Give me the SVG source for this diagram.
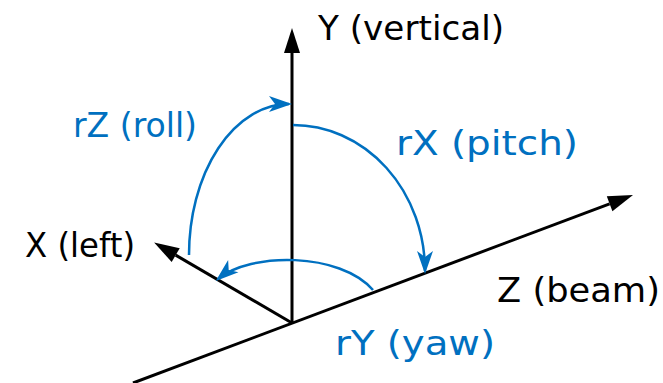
<svg xmlns="http://www.w3.org/2000/svg" width="663" height="383" viewBox="0 0 663 383">
<style>
.axis{stroke:#000;stroke-width:3;fill:none;marker-end:url(#blk)}
.rot{stroke:#0070C0;stroke-width:2.5;fill:none;marker-end:url(#blu)}
.lbl{font-family:"DejaVu Sans",sans-serif;font-size:34px;fill:#000}
.rl{font-family:"DejaVu Sans",sans-serif;font-size:34px;fill:#0070C0}
</style>
<defs>
<marker id="blk" markerUnits="userSpaceOnUse" markerWidth="26" markerHeight="16" refX="0" refY="8" orient="auto" overflow="visible">
<path d="M0,0 L25,8 L0,16 z" fill="#000"/>
</marker>
<marker id="blu" markerUnits="userSpaceOnUse" markerWidth="24" markerHeight="16" refX="20" refY="8" orient="auto" overflow="visible">
<path d="M23,8 L0,0 L6,8 L0,16 z" fill="#0070C0"/>
</marker>
</defs>
<g id="connectors">
<line id="axis-z" class="axis" x1="133" y1="383" x2="609.6" y2="203.8"/>
<line id="axis-y" class="axis" x1="292" y1="324" x2="292" y2="53"/>
<line id="axis-x" class="axis" x1="292" y1="323" x2="175.7" y2="255.1"/>
<path id="arc-rx" class="rot" d="M293,125 A132,146 0 0 1 425,271"/>
<path id="arc-rz" class="rot" d="M189,255 A100,151 0 0 1 289,104"/>
<path id="arc-ry" class="rot" d="M373,290 C340,252 250,252 218,279"/>
</g>
<g id="label-y"><text class="lbl" x="318" y="40" textLength="186" lengthAdjust="spacingAndGlyphs">Y (vertical)</text></g>
<g id="label-x"><text class="lbl" x="25" y="257" textLength="110" lengthAdjust="spacingAndGlyphs">X (left)</text></g>
<g id="label-z"><text class="lbl" x="497" y="302" textLength="163" lengthAdjust="spacingAndGlyphs">Z (beam)</text></g>
<g id="label-rz"><text class="rl" x="73" y="137" textLength="124" lengthAdjust="spacingAndGlyphs">rZ (roll)</text></g>
<g id="label-rx"><text class="rl" x="396" y="155" textLength="182" lengthAdjust="spacingAndGlyphs">rX (pitch)</text></g>
<g id="label-ry"><text class="rl" x="335" y="355" textLength="160" lengthAdjust="spacingAndGlyphs">rY (yaw)</text></g>
</svg>
